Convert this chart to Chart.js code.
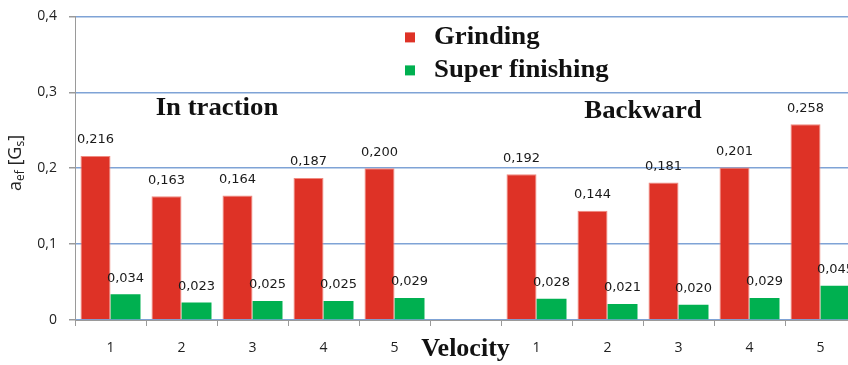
<!DOCTYPE html>
<html>
<head>
<meta charset="utf-8">
<script src="https://cdn.jsdelivr.net/npm/chart.js@4/dist/chart.umd.min.js"></script>
<style>
  html, body { margin: 0; padding: 0; overflow: hidden; background: #fff; }
  canvas { display: block; margin-top: -4px; }
</style>
</head>
<body>
<canvas id="chart" width="858" height="369"></canvas>
<script>
// Velocity steps: traction group, empty gap, backward group
const velocityLabels = ['1', '2', '3', '4', '5', '', '1', '2', '3', '4', '5'];
const grinding       = [0.216, 0.163, 0.164, 0.187, 0.200, null, 0.192, 0.144, 0.181, 0.201, 0.258];
const superFinishing = [0.034, 0.023, 0.025, 0.025, 0.029, null, 0.028, 0.021, 0.020, 0.029, 0.045];
const seriesNames    = ['Grinding', 'Super finishing'];
const yTickValues    = [0, 0.1, 0.2, 0.3, 0.4];

const RED = '#DE3226';
const GREEN = '#00B050';
const SERIF = '"Liberation Serif", "Times New Roman", serif';
const SANS = '"Open Sans", "DejaVu Sans", sans-serif';

const decimalComma = (v, digits) => v === 0 ? '0' : v.toFixed(digits).replace('.', ',');

// bold serif text, slightly widened
function wideText(ctx, text, x, y, size, align) {
  ctx.save();
  ctx.font = `bold ${size}px ${SERIF}`;
  ctx.textBaseline = 'middle';
  ctx.textAlign = align || 'center';
  ctx.fillStyle = '#111';
  ctx.translate(x, y);
  ctx.scale(1.07, 1);
  ctx.fillText(text, 0, 0);
  ctx.restore();
}

// value written above every bar
const valueLabels = {
  id: 'valueLabels',
  afterDatasetsDraw(chart) {
    const ctx = chart.ctx;
    ctx.save();
    ctx.font = '13px "DejaVu Sans", sans-serif';
    ctx.fillStyle = '#1a1a1a';
    ctx.textAlign = 'center';
    ctx.textBaseline = 'middle';
    chart.data.datasets.forEach((ds, di) => {
      chart.getDatasetMeta(di).data.forEach((bar, i) => {
        const v = ds.data[i];
        if (v === null || v === undefined) return;
        ctx.fillText(decimalComma(v, 3), bar.x, bar.y - 16);
      });
    });
    ctx.restore();
  }
};

// group captions, legend and the y-axis title with subscripts
const decorations = {
  id: 'decorations',
  afterDraw(chart) {
    const ctx = chart.ctx;
    const x = chart.scales.x, y = chart.scales.y;

    wideText(ctx, 'In traction', x.getPixelForValue(1.5), y.getPixelForValue(0.279), 25);
    wideText(ctx, 'Backward', x.getPixelForValue(7.5), y.getPixelForValue(0.275), 25);

    // legend, placed just under the top gridline
    const colors = [RED, GREEN];
    const top = chart.chartArea.top;
    const rows = [top + 21, top + 54];
    seriesNames.forEach((name, i) => {
      ctx.fillStyle = colors[i];
      ctx.fillRect(405, rows[i] - 5, 10, 10);
      wideText(ctx, name, 434, rows[i], 25, 'left');
    });

    // a_ef [G_s]
    ctx.save();
    ctx.translate(16, y.getPixelForValue(0.17));
    ctx.rotate(-Math.PI / 2);
    ctx.fillStyle = '#222';
    ctx.textBaseline = 'middle';
    ctx.textAlign = 'left';
    const big = `18px ${SANS}`, small = `12px ${SANS}`;
    let cx = 0;
    const piece = (t, font, dy) => {
      ctx.font = font;
      ctx.fillText(t, cx, dy);
      cx += ctx.measureText(t).width;
    };
    piece('a', big, 0);
    piece('ef', small, 5);
    piece(' [G', big, 0);
    piece('s', small, 5);
    piece(']', big, 0);
    ctx.restore();
  }
};

new Chart(document.getElementById('chart'), {
  type: 'bar',
  data: {
    labels: velocityLabels,
    datasets: [
      {
        label: seriesNames[0],
        data: grinding,
        backgroundColor: RED,
        borderColor: '#F08A80',
        borderWidth: 1,
        categoryPercentage: 0.845,
        barPercentage: 1.0
      },
      {
        label: seriesNames[1],
        data: superFinishing,
        backgroundColor: GREEN,
        borderWidth: 0,
        categoryPercentage: 0.845,
        barPercentage: 1.0
      }
    ]
  },
  options: {
    responsive: false,
    animation: false,
    devicePixelRatio: 1,
    layout: { padding: { top: 7, right: 2, left: 0, bottom: 0 } },
    plugins: {
      legend: { display: false },
      tooltip: { enabled: false }
    },
    scales: {
      x: {
        grid: {
          display: true,
          drawOnChartArea: false,
          drawTicks: true,
          tickLength: 6,
          color: '#9a9a9a',
          offset: true
        },
        border: { color: '#9a9a9a', width: 1 },
        ticks: {
          font: { family: SANS, size: 14 },
          color: '#222',
          padding: 14,
          maxRotation: 0,
          autoSkip: false
        },
        title: {
          display: true,
          text: 'Velocity',
          font: { family: SERIF, size: 26, weight: 'bold' },
          color: '#111',
          padding: { top: 0, bottom: 0 }
        },
        afterFit(scale) { scale.height = 45; }
      },
      y: {
        min: 0,
        max: 0.4,
        afterBuildTicks(scale) { scale.ticks = yTickValues.map(v => ({ value: v })); },
        ticks: {
          font: { family: SANS, size: 14 },
          color: '#222',
          padding: 12,
          callback: v => decimalComma(v, 1)
        },
        grid: {
          color: '#7FA3D6',
          lineWidth: 1.5,
          tickColor: '#9a9a9a',
          tickLength: 6
        },
        border: { color: '#9a9a9a', width: 1 },
        afterFit(scale) { scale.width = 75; }
      }
    }
  },
  plugins: [valueLabels, decorations]
});
</script>
</body>
</html>
